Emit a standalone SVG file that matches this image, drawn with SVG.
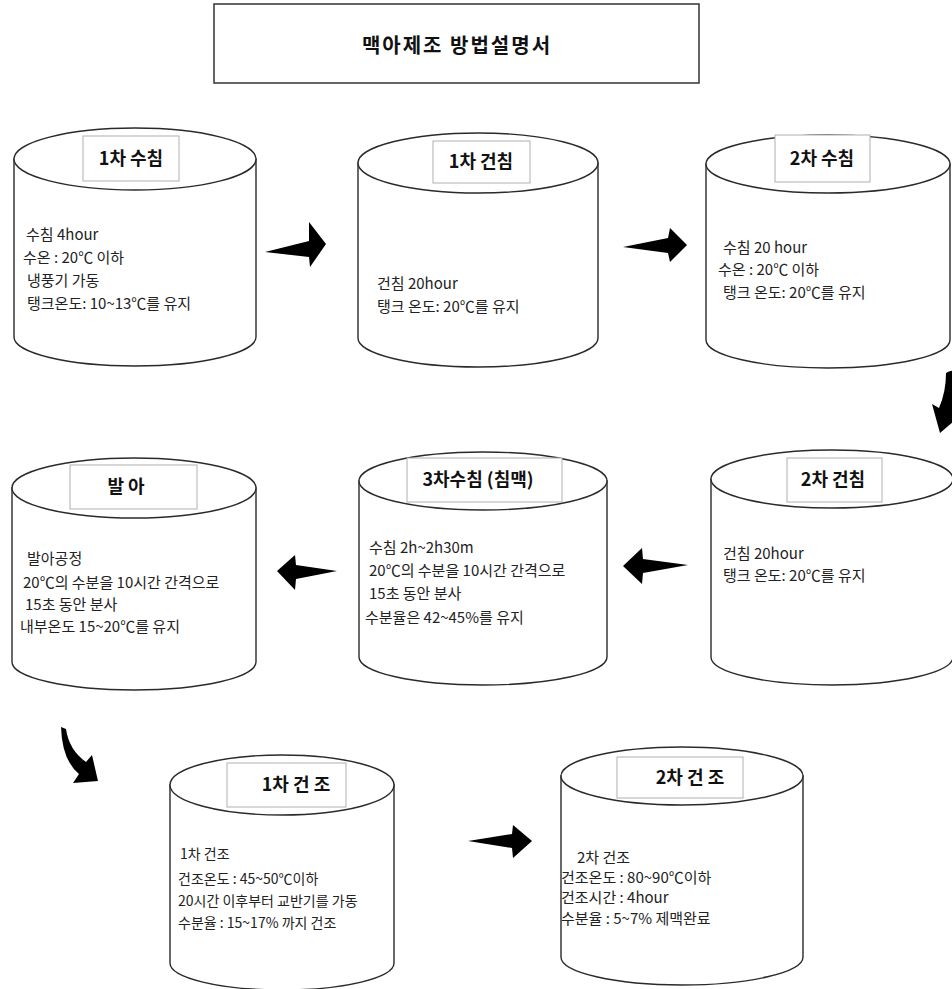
<svg xmlns="http://www.w3.org/2000/svg" width="952" height="989" viewBox="0 0 952 989">
<style>
.cyl{fill:#fff;stroke:#2a2a2a;stroke-width:1.4}
.lb{fill:#fff;stroke:#b0b0b0;stroke-width:1}
.t{font-family:"Noto Sans CJK KR","Noto Sans",sans-serif;font-size:15px;fill:#222}
.s{font-family:"Noto Sans CJK KR","Noto Sans",sans-serif;font-size:14px;fill:#222}
.lt{font-family:"Noto Sans CJK KR","Noto Sans",sans-serif;font-size:18px;font-weight:bold;fill:#111;text-anchor:middle}
.ti{font-family:"Noto Sans CJK KR","Noto Sans",sans-serif;font-size:20px;font-weight:bold;fill:#111;text-anchor:middle;letter-spacing:2px}
.ar{fill:#000}
</style>
<rect width="952" height="989" fill="#fff"/>
<g id="title">
<rect x="214" y="4" width="485" height="79" fill="#fff" stroke="#333" stroke-width="1.5"/>
<text class="ti" x="457" y="53">맥아제조 방법설명서</text>
</g>
<g id="n1">
<path class="cyl" d="M14 159 V337 A121 29 0 0 0 256 337 V159 Z"/>
<ellipse class="cyl" cx="135" cy="159" rx="121" ry="31"/>
<rect class="lb" x="83" y="136" width="96" height="45"/>
<text class="lt" x="131" y="165">1차 수침</text>
<text class="t" x="26" y="240">수침 4hour</text>
<text class="t" x="23" y="263">수온 : 20℃ 이하</text>
<text class="t" x="27" y="286">냉풍기 가동</text>
<text class="t" x="27" y="309">탱크온도: 10~13℃를 유지</text>
</g>
<g id="n2">
<path class="cyl" d="M358 163 V338 A120 29 0 0 0 598 338 V163 Z"/>
<ellipse class="cyl" cx="478" cy="163" rx="120" ry="30"/>
<rect class="lb" x="433" y="141" width="97" height="42"/>
<text class="lt" x="481" y="168">1차 건침</text>
<text class="t" x="377" y="289">건침 20hour</text>
<text class="t" x="377" y="312">탱크 온도: 20℃를 유지</text>
</g>
<g id="n3">
<path class="cyl" d="M706 164 V340 A122 28 0 0 0 950 340 V164 Z"/>
<ellipse class="cyl" cx="828" cy="164" rx="122" ry="29"/>
<rect class="lb" x="775" y="135" width="95" height="47"/>
<text class="lt" x="822" y="165">2차 수침</text>
<text class="t" x="723" y="253">수침 20 hour</text>
<text class="t" x="718" y="275">수온 : 20℃ 이하</text>
<text class="t" x="723" y="298">탱크 온도: 20℃를 유지</text>
</g>
<g id="n4">
<path class="cyl" d="M711 479 V657 A121 28 0 0 0 953 657 V479 Z"/>
<ellipse class="cyl" cx="832" cy="479" rx="121" ry="29"/>
<rect class="lb" x="787" y="458" width="95" height="44"/>
<text class="lt" x="833" y="486">2차 건침</text>
<text class="t" x="723" y="559">건침 20hour</text>
<text class="t" x="723" y="581">탱크 온도:  20℃를 유지</text>
</g>
<g id="n5">
<path class="cyl" d="M359 481 V657 A124 28 0 0 0 607 657 V481 Z"/>
<ellipse class="cyl" cx="483" cy="481" rx="124" ry="29"/>
<rect class="lb" x="407" y="458" width="155" height="44"/>
<text class="lt" x="478" y="486">3차수침 (침맥)</text>
<text class="t" x="369" y="553">수침 2h~2h30m</text>
<text class="t" x="369" y="576">20℃의 수분을 10시간 간격으로</text>
<text class="t" x="369" y="599">15초 동안 분사</text>
<text class="t" x="365" y="623">수분율은 42~45%를 유지</text>
</g>
<g id="n6">
<path class="cyl" d="M12 488 V662 A122 28 0 0 0 256 662 V488 Z"/>
<ellipse class="cyl" cx="134" cy="488" rx="122" ry="30"/>
<rect class="lb" x="70" y="465" width="127" height="44"/>
<text class="lt" x="126" y="493">발 아</text>
<text class="t" x="27" y="564">발아공정</text>
<text class="t" x="23" y="588">20℃의 수분을 10시간 간격으로</text>
<text class="t" x="25" y="610">15초 동안 분사</text>
<text class="t" x="20" y="632">내부온도 15~20℃를 유지</text>
</g>
<g id="n7">
<path class="cyl" d="M170 785 V963 A112 27 0 0 0 394 963 V785 Z"/>
<ellipse class="cyl" cx="282" cy="785" rx="112" ry="30"/>
<rect class="lb" x="227" y="763" width="119" height="44"/>
<text class="lt" x="296" y="791">1차 건 조</text>
<text class="s" x="180" y="859">1차 건조</text>
<text class="s" x="178" y="884">건조온도 :  45~50℃이하</text>
<text class="s" x="178" y="906">20시간 이후부터 교반기를 가동</text>
<text class="s" x="178" y="928">수분율 : 15~17% 까지 건조</text>
</g>
<g id="n8">
<path class="cyl" d="M561 776 V957 A121 28 0 0 0 803 957 V776 Z"/>
<ellipse class="cyl" cx="682" cy="776" rx="121" ry="29"/>
<rect class="lb" x="617" y="757" width="126" height="41"/>
<text class="lt" x="690" y="784">2차 건 조</text>
<text class="t" x="577" y="863">2차 건조</text>
<text class="t" x="561" y="883">건조온도 :  80~90℃이하</text>
<text class="t" x="561" y="903">건조시간 : 4hour</text>
<text class="t" x="561" y="924">수분율 : 5~7% 제맥완료</text>
</g>
<g id="connectors">
<polygon class="ar" points="265,252 309,241 309,222 326,244 310,267 309,257"/>
<polygon class="ar" points="623,247 668,238 670,228 687,245 670,262 668,253"/>
<path class="ar" d="M946 373 Q952 369 960 372 Q960 396 953 410 L962 414 L940 433 L932 404 L939 408 Q946 392 946 373 Z"/>
<polygon class="ar" points="623,566 642,548 643,559 688,565 643,573 642,584"/>
<polygon class="ar" points="277,571 295,555 296,565 337,571 296,579 295,590"/>
<path class="ar" d="M61 727 L66 729 Q69 750 86 762 L92 755 L98 781 L73 783 L79 774 Q62 760 61 727 Z"/>
<polygon class="ar" points="468,841 512,834 513,825 532,841 513,858 512,848"/>
</g>
</svg>
